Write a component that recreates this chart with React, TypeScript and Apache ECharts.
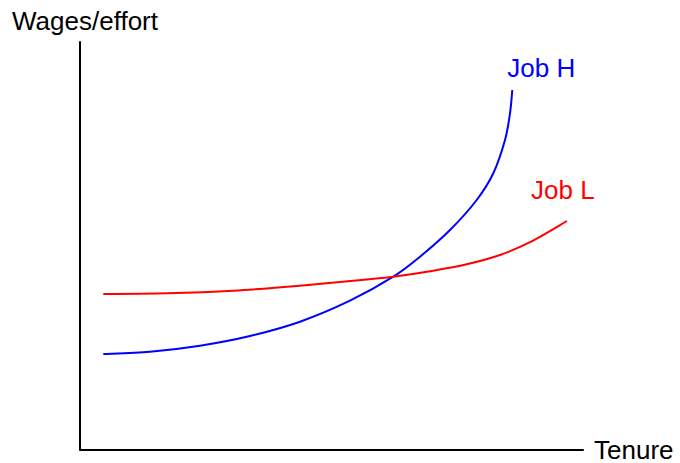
import React, { useEffect, useRef } from "react";
import * as echarts from "echarts";

// Tenure positions (x) and wages/effort (y), in axis units
const jobHTenure = [23.3, 70, 120, 170, 220, 270, 313.3, 340, 370, 396.7, 413.3, 425, 430, 432.3];
const jobHWages = [95.5, 97.8, 103.8, 113.5, 127.8, 148.8, 172.8, 192.8, 219.5, 249.5, 276.2, 309.5, 336.2, 359.5];
const jobLTenure = [23.3, 86.7, 153.3, 220, 286.7, 313.3, 353.3, 386.7, 420, 450, 487];
const jobLWages = [155.5, 156.2, 158.8, 163.8, 170, 172.8, 178.8, 185.2, 194.5, 207.3, 228.5];

const seriesNames = ["Job H", "Job L"];
const seriesColors = ["#0000ff", "#ff0000"];
const xAxisTitle = "Tenure";
const yAxisTitle = "Wages/effort";

const FONT = "Liberation Sans, Arial, Helvetica, sans-serif";
const FS = 26;

function curveSeries(
  name: string,
  color: string,
  data: number[][],
  labelOffset: [number, number]
) {
  return {
    name,
    type: "custom",
    data,
    encode: { x: 0, y: 1 },
    renderItem: (params: any, api: any) => {
      if (params.dataIndex !== 0) return null;
      const pts = data.map((d) => api.coord(d));
      let d = `M${pts[0][0]},${pts[0][1]}`;
      for (let i = 0; i < pts.length - 1; i++) {
        const p0 = pts[Math.max(0, i - 1)];
        const p1 = pts[i];
        const p2 = pts[i + 1];
        const p3 = pts[Math.min(pts.length - 1, i + 2)];
        const c1x = p1[0] + (p2[0] - p0[0]) / 6;
        const c1y = p1[1] + (p2[1] - p0[1]) / 6;
        const c2x = p2[0] - (p3[0] - p1[0]) / 6;
        const c2y = p2[1] - (p3[1] - p1[1]) / 6;
        d += ` C${c1x},${c1y} ${c2x},${c2y} ${p2[0]},${p2[1]}`;
      }
      const end = pts[pts.length - 1];
      return {
        type: "group",
        children: [
          {
            type: "path",
            shape: { pathData: d },
            style: { stroke: color, fill: "none", lineWidth: 2 },
          },
          {
            type: "text",
            x: end[0] + labelOffset[0],
            y: end[1] + labelOffset[1],
            style: {
              text: name,
              fill: color,
              font: `${FS}px ${FONT}`,
              textAlign: "left",
              textVerticalAlign: "middle",
            },
          },
        ],
      };
    },
  };
}

export default function App() {
  const ref = useRef<HTMLDivElement>(null);
  useEffect(() => {
    if (!ref.current) return;
    const chart = echarts.init(ref.current, null, { renderer: "svg" });
    const hData = jobHTenure.map((t, i) => [t, jobHWages[i]]);
    const lData = jobLTenure.map((t, i) => [t, jobLWages[i]]);
    chart.setOption({
      animation: false,
      backgroundColor: "#ffffff",
      grid: { left: 80, top: 42, width: 503, height: 407.5 },
      xAxis: {
        type: "value",
        min: 0,
        max: 503,
        name: xAxisTitle,
        nameLocation: "end",
        nameGap: 11,
        nameTextStyle: { color: "#000", fontSize: FS, fontFamily: FONT, verticalAlign: "middle" },
        axisLine: { show: true, onZero: false, lineStyle: { color: "#000", width: 2 } },
        axisTick: { show: false },
        axisLabel: { show: false },
        splitLine: { show: false },
      },
      yAxis: {
        type: "value",
        min: 0,
        max: 407.5,
        name: yAxisTitle,
        nameLocation: "end",
        nameGap: 8,
        nameTextStyle: { color: "#000", fontSize: FS, fontFamily: FONT, padding: [0, 0, 0, 10] },
        axisLine: { show: true, onZero: false, lineStyle: { color: "#000", width: 2 } },
        axisTick: { show: false },
        axisLabel: { show: false },
        splitLine: { show: false },
      },
      series: [
        curveSeries(seriesNames[0], seriesColors[0], hData, [-5, -22]),
        curveSeries(seriesNames[1], seriesColors[1], lData, [-36, -31]),
      ],
    });
    return () => chart.dispose();
  }, []);
  return (
    <div
      ref={ref}
      style={{ position: "fixed", left: 0, top: 0, width: 680, height: 463, background: "#fff" }}
    />
  );
}
